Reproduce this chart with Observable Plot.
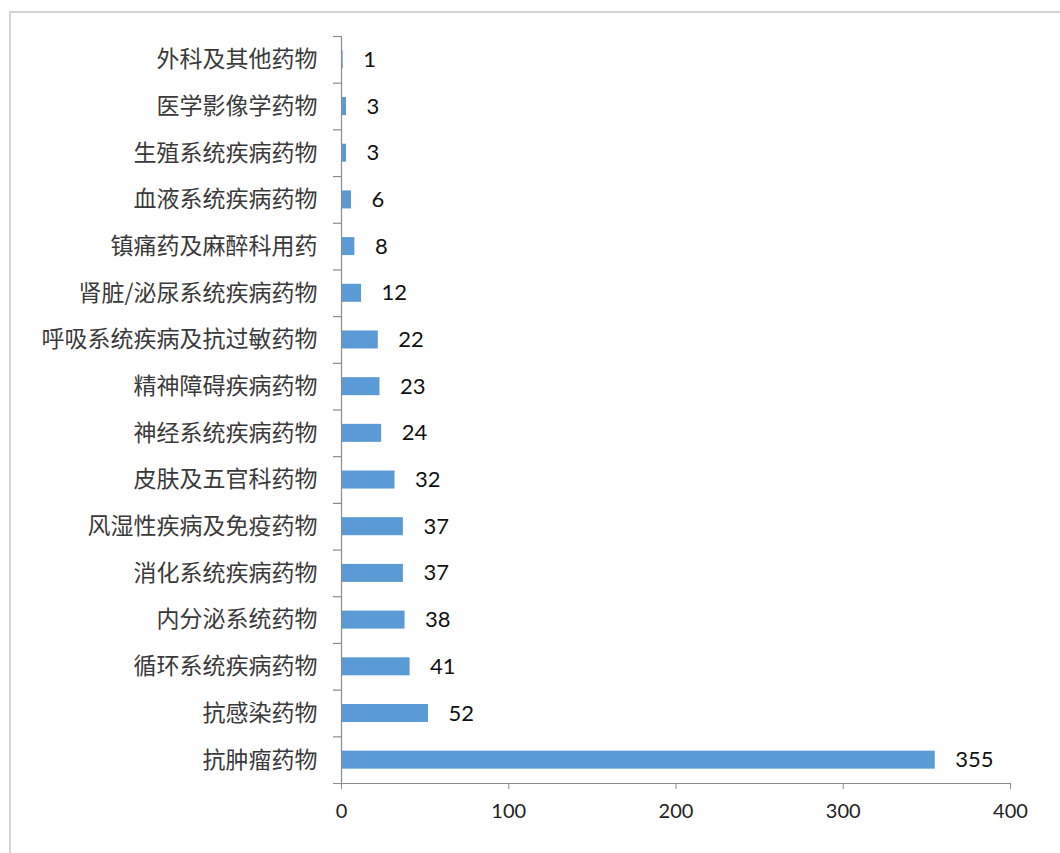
<!DOCTYPE html>
<html>
<head>
<meta charset="utf-8">
<script src="https://cdn.jsdelivr.net/npm/d3@7"></script>
<script src="https://cdn.jsdelivr.net/npm/@observablehq/plot@0.6"></script>
<style>
  html, body { margin: 0; padding: 0; background: #fff; overflow: hidden; }
  #frame { position: absolute; left: 9px; top: 11px; width: 1100px; height: 900px; border: 2px solid #d4d4d4; box-sizing: border-box; }
  #chart { position: absolute; left: 0; top: 0; }
</style>
</head>
<body>
<div id="frame"></div>
<div id="chart"></div>
<script>
const categories = [
  "外科及其他药物",
  "医学影像学药物",
  "生殖系统疾病药物",
  "血液系统疾病药物",
  "镇痛药及麻醉科用药",
  "肾脏/泌尿系统疾病药物",
  "呼吸系统疾病及抗过敏药物",
  "精神障碍疾病药物",
  "神经系统疾病药物",
  "皮肤及五官科药物",
  "风湿性疾病及免疫药物",
  "消化系统疾病药物",
  "内分泌系统药物",
  "循环系统疾病药物",
  "抗感染药物",
  "抗肿瘤药物"
];
const values = [1, 3, 3, 6, 8, 12, 22, 23, 24, 32, 37, 37, 38, 41, 52, 355];
const xTicks = [0, 100, 200, 300, 400];

const data = categories.map((name, i) => ({name, value: values[i]}));

const W = 1060, H = 853, mL = 341, mR = 50, mT = 36, mB = 70;
const step = (H - mT - mB) / categories.length;
const barH = 18;
const inset = (step - barH) / 2;
const axisColor = "#8c8c8c";

const chart = Plot.plot({
  width: W,
  height: H,
  marginLeft: mL,
  marginRight: mR,
  marginTop: mT,
  marginBottom: mB,
  style: { background: "transparent", fontFamily: "Lato, 'Noto Sans CJK SC', sans-serif" },
  x: { domain: [0, 400] },
  y: { domain: categories, padding: 0, round: false },
  marks: [
    Plot.barX(data, { x: "value", y: "name", fill: "#5B9BD5", insetTop: inset, insetBottom: inset }),
    Plot.text(data, { x: "value", y: "name", text: d => String(d.value), textAnchor: "start", dx: 20, fontSize: 22, fill: "#111", fontFamily: "Lato, sans-serif" }),
    Plot.ruleX([0], { stroke: axisColor, strokeWidth: 1.2 }),
    Plot.tickY(categories, { y: d => d, dy: -step / 2, stroke: axisColor, strokeWidth: 1.2, insetLeft: -8, insetRight: W - mL - mR }),
    Plot.tickY(categories.slice(-1), { y: d => d, dy: step / 2, stroke: axisColor, strokeWidth: 1.2, insetLeft: -8 }),
    Plot.axisY({ tickSize: 0, tickPadding: 24, fontSize: 23, fill: "#3a3a3a", fontFamily: "'Noto Sans CJK SC', sans-serif", label: null }),
    Plot.axisX({ ticks: xTicks, tickSize: 6, tickPadding: 14, stroke: axisColor, fontSize: 20, fill: "#222", fontFamily: "Lato, sans-serif", label: null, tickFormat: d => String(d) })
  ]
});
document.getElementById("chart").appendChild(chart);
</script>
</body>
</html>
